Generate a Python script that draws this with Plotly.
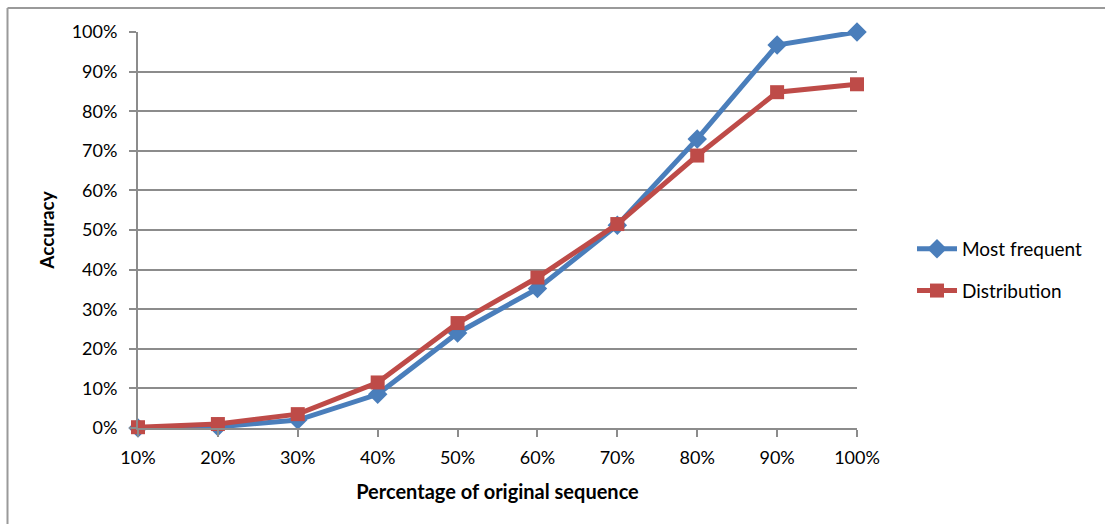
import plotly.graph_objects as go

# Share of the original sequence that was used
categories = ["10%", "20%", "30%", "40%", "50%", "60%", "70%", "80%", "90%", "100%"]

# Accuracy (fraction) for each strategy
most_frequent = [0.000, 0.003, 0.020, 0.085, 0.240, 0.352, 0.512, 0.730, 0.967, 1.000]
distribution = [0.002, 0.010, 0.035, 0.115, 0.265, 0.380, 0.515, 0.688, 0.848, 0.868]

FONT = "Lato, Carlito, Calibri, sans-serif"
GRID = "#8c8c8c"

fig = go.Figure()
fig.add_trace(go.Scatter(
    x=categories, y=most_frequent, name="Most frequent",
    legendgroup="mf", cliponaxis=False,
    mode="lines+markers",
    line=dict(color="#4A7EBB", width=5),
    marker=dict(symbol="diamond", size=15, color="#4A7EBB"),
))
fig.add_trace(go.Scatter(
    x=categories, y=distribution, name="Distribution",
    legendgroup="dist", cliponaxis=False,
    mode="lines+markers",
    line=dict(color="#BE4B48", width=5),
    marker=dict(symbol="square", size=14, color="#BE4B48"),
))

# Margins place the plot area at x 138..857, y 32..428
L, R, T, B = 138, 1105 - 857, 32, 524 - 428
W, H = 1105, 524
pw, ph = W - L - R, H - T - B


def px(xp):
    return (xp - L) / pw


def py(yp):
    return (H - B - yp) / ph


fig.update_layout(
    width=W, height=H,
    margin=dict(l=L, r=R, t=T, b=B),
    paper_bgcolor="white", plot_bgcolor="white",
    font=dict(family=FONT, size=18, color="#000000"),
    showlegend=True,
    legend=dict(
        x=px(912), y=py(270), xanchor="left", yanchor="middle",
        font=dict(family=FONT, size=19),
        tracegroupgap=14, itemwidth=40,
        bgcolor="rgba(0,0,0,0)",
    ),
    xaxis=dict(
        type="category", range=[0, 9],
        showgrid=False, zeroline=False,
        showline=True, linecolor=GRID, linewidth=2,
        ticks="outside", ticklen=7, tickwidth=2, tickcolor=GRID,
        ticklabelstandoff=5,
        tickfont=dict(family=FONT, size=18),
        title=dict(text="<b>Percentage of original sequence</b>",
                   font=dict(family=FONT, size=20), standoff=18),
    ),
    yaxis=dict(
        range=[0, 1], dtick=0.1, tickformat=".0%",
        showgrid=True, gridcolor=GRID, gridwidth=2,
        zeroline=False,
        showline=True, linecolor=GRID, linewidth=2,
        ticks="outside", ticklen=7, tickwidth=2, tickcolor=GRID,
        ticklabelstandoff=8,
        tickfont=dict(family=FONT, size=18),
        title=dict(text="<b>Accuracy</b>",
                   font=dict(family=FONT, size=19), standoff=12),
    ),
    shapes=[
        # outer chart frame (left and top edges visible)
        dict(type="line", xref="paper", yref="paper",
             x0=px(7.5), x1=px(7.5), y0=py(H + 5), y1=py(8),
             line=dict(color="#9a9a9a", width=2)),
        dict(type="line", xref="paper", yref="paper",
             x0=px(7.5), x1=px(W + 5), y0=py(8), y1=py(8),
             line=dict(color="#9a9a9a", width=2)),
    ],
)

fig.write_html("out.html")
